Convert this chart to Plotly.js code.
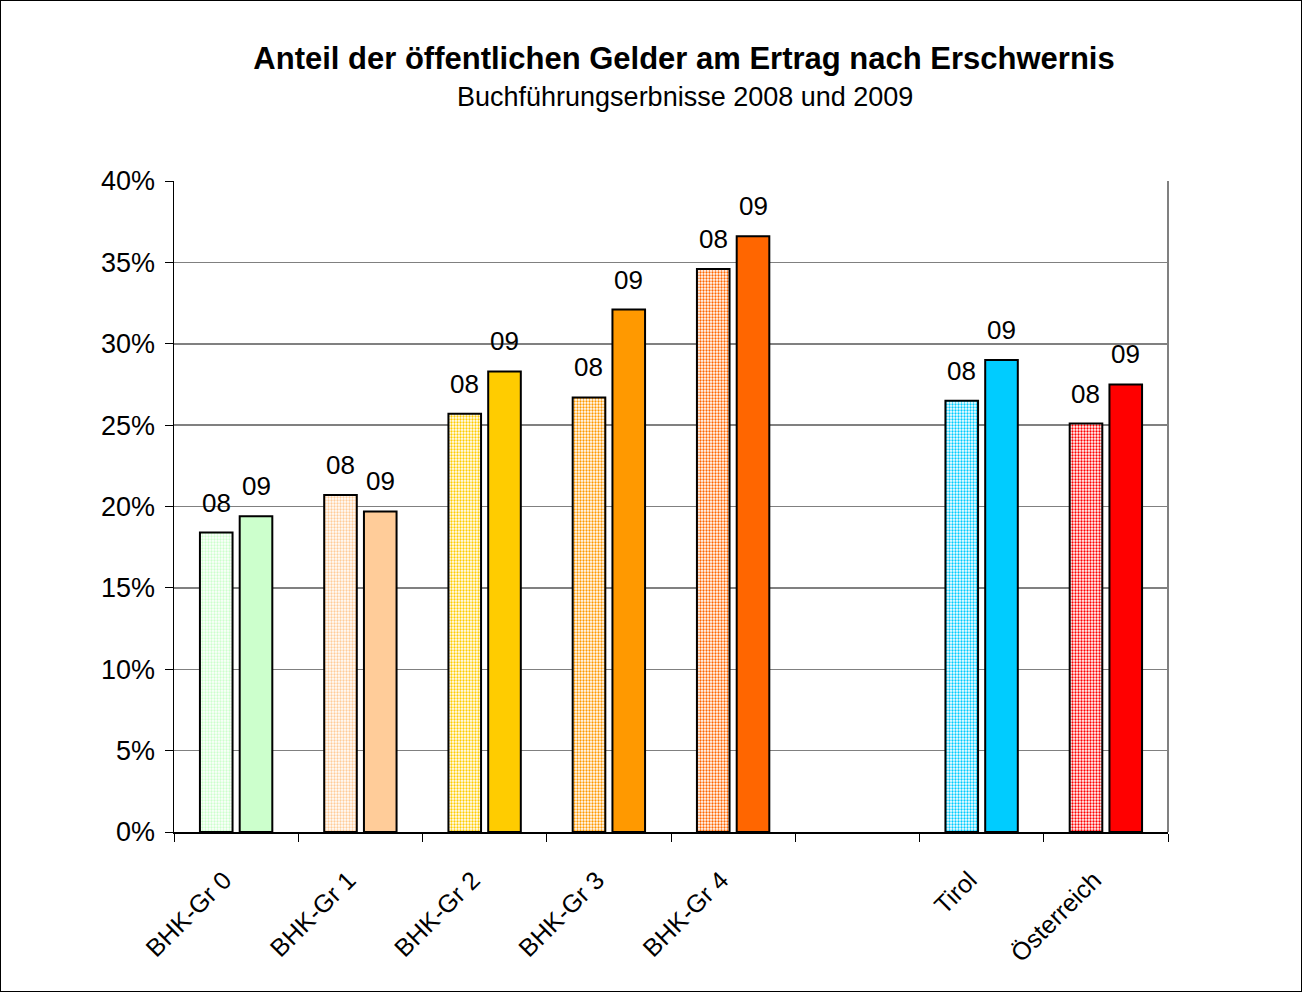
<!DOCTYPE html>
<html>
<head>
<meta charset="utf-8">
<script src="https://cdn.plot.ly/plotly-3.0.1.min.js"></script>
<style>
  html, body { margin: 0; padding: 0; background: #fff; }
  #wrap { position: relative; width: 1302px; height: 992px; }
  #chart { position: absolute; left: 0; top: 0; width: 1302px; height: 992px; }
  #frame { position: absolute; left: 0; top: 0; width: 1302px; height: 992px; box-sizing: border-box; border: 1px solid #000; pointer-events: none; }
</style>
</head>
<body>
<div id="wrap"><div id="chart"></div><div id="frame"></div></div>
<script>
// ---- data ----
const categories = ["BHK-Gr 0", "BHK-Gr 1", "BHK-Gr 2", "BHK-Gr 3", "BHK-Gr 4", " ", "Tirol", "Österreich"];
const dataCategories = ["BHK-Gr 0", "BHK-Gr 1", "BHK-Gr 2", "BHK-Gr 3", "BHK-Gr 4", "Tirol", "Österreich"];
const values2008 = [0.184, 0.207, 0.257, 0.267, 0.346, 0.265, 0.251];
const values2009 = [0.194, 0.197, 0.283, 0.321, 0.366, 0.290, 0.275];
const seriesLabels = ["08", "09"];
const barColors = ["#CCFFCC", "#FFCC99", "#FFCC00", "#FF9900", "#FF6600", "#00CCFF", "#FF0000"];
const yTickVals = [0, 0.05, 0.10, 0.15, 0.20, 0.25, 0.30, 0.35, 0.40];
const titleText = "Anteil der öffentlichen Gelder am Ertrag nach Erschwernis";
const subtitleText = "Buchführungserbnisse 2008 und 2009";

const FONT = "Liberation Sans, Arial, sans-serif";

const trace08 = {
  type: "bar",
  name: seriesLabels[0],
  x: dataCategories,
  y: values2008,
  marker: {
    color: "#ffffff",
    line: { color: "#000", width: 2 },
    pattern: { shape: ".", fgcolor: barColors, bgcolor: "#ffffff", size: 3, solidity: 0.45, fillmode: "replace" }
  },
  hoverinfo: "skip"
};
const trace09 = {
  type: "bar",
  name: seriesLabels[1],
  x: dataCategories,
  y: values2009,
  marker: { color: barColors, line: { color: "#000", width: 2 } },
  hoverinfo: "skip"
};

const annotations = [];
[values2008, values2009].forEach((vals, s) => {
  vals.forEach((v, i) => {
    annotations.push({
      x: dataCategories[i], y: v, xref: "x", yref: "y",
      text: seriesLabels[s], showarrow: false,
      xshift: s === 0 ? -20 : 20, yshift: 13, yanchor: "bottom",
      font: { family: FONT, size: 26, color: "#000" }
    });
  });
});
annotations.push({
  xref: "paper", yref: "paper", x: (684 - 174) / 993, y: 1 + (181 - 97) / 651,
  text: subtitleText, showarrow: false, xanchor: "center", yanchor: "middle",
  font: { family: FONT, size: 27, color: "#000" }
});

const layout = {
  width: 1302, height: 992,
  paper_bgcolor: "#fff", plot_bgcolor: "#fff",
  margin: { l: 174, r: 134, t: 181, b: 160 },
  showlegend: false,
  barmode: "group", bargap: 0.36, bargroupgap: 0.18,
  title: {
    text: "<b>" + titleText + "</b>",
    xref: "container", yref: "container", x: 684 / 1302, xanchor: "center",
    y: 1 - 58 / 992, yanchor: "middle",
    font: { family: FONT, size: 31, color: "#000" }
  },
  xaxis: {
    type: "category", categoryorder: "array", categoryarray: categories,
    range: [-0.5, categories.length - 0.5],
    tickson: "boundaries", ticks: "outside", ticklen: 8, tickcolor: "#000", tickwidth: 1,
    showline: true, linecolor: "#000", linewidth: 1.5,
    showgrid: false, tickangle: -45, ticklabelstandoff: 22, ticklabelshift: -12,
    tickfont: { family: FONT, size: 25, color: "#000" }
  },
  yaxis: {
    range: [0, 0.4], tickvals: yTickVals, tickformat: ".0%",
    ticks: "outside", ticklen: 8, tickcolor: "#000", tickwidth: 1,
    showline: true, linecolor: "#000", linewidth: 1.5,
    showgrid: true, gridcolor: "#808080", gridwidth: 1.5,
    zeroline: false, ticklabelstandoff: 4,
    tickfont: { family: FONT, size: 27, color: "#000" }
  },
  shapes: [
    { type: "line", xref: "paper", yref: "paper", x0: 1, x1: 1, y0: 0, y1: 1, line: { color: "#808080", width: 2 } }
  ],
  annotations: annotations
};

Plotly.newPlot("chart", [trace08, trace09], layout, { displayModeBar: false, staticPlot: true });
</script>
</body>
</html>
